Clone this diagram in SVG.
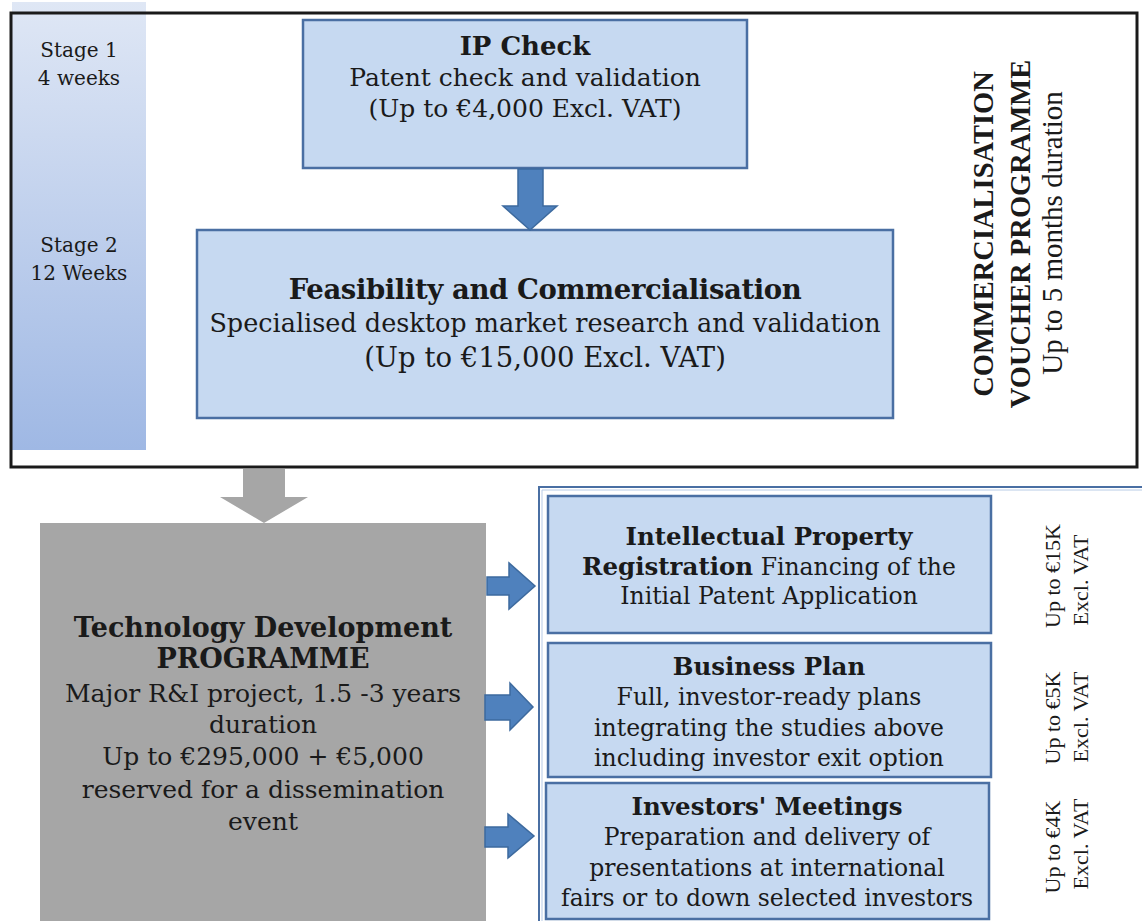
<svg xmlns="http://www.w3.org/2000/svg" width="1142" height="921" viewBox="0 0 1142 921">
<defs>
<linearGradient id="stageGrad" x1="0" y1="0" x2="0" y2="1">
<stop offset="0" stop-color="#dfe7f5"/>
<stop offset="1" stop-color="#9fb8e4"/>
</linearGradient>
<style>
.box{fill:#c6d9f1;stroke:#4a6fa3;stroke-width:2.5}
.barrow{fill:#4f81bd;stroke:#3d6a9e;stroke-width:1.5}
.g{font-family:"DejaVu Serif","Liberation Serif",serif;fill:#1a1a1a;text-anchor:middle}
.t{font-family:"Liberation Serif","Times New Roman",serif;fill:#1a1a1a;text-anchor:middle}
.b{font-weight:bold}
</style>
</defs>
<rect width="1142" height="921" fill="#ffffff"/>

<g id="stage-bar">
<rect x="12" y="2" width="134" height="448" fill="url(#stageGrad)"/>
<text class="g" font-size="20" x="79" y="57">Stage 1</text>
<text class="g" font-size="20" x="79" y="85">4 weeks</text>
<text class="g" font-size="20" x="79" y="252">Stage 2</text>
<text class="g" font-size="20" x="79" y="280">12 Weeks</text>
</g>

<g id="commercialisation-frame">
<rect x="11" y="13" width="1126" height="454" fill="none" stroke="#1a1a1a" stroke-width="3"/>
<text class="t b" font-size="28.5" transform="translate(993,234) rotate(-90)">COMMERCIALISATION</text>
<text class="t b" font-size="28.5" transform="translate(1030,234) rotate(-90)">VOUCHER PROGRAMME</text>
<text class="t" font-size="29" transform="translate(1062,233) rotate(-90)">Up to 5 months duration</text>
</g>

<g id="ip-check">
<rect class="box" x="303" y="20" width="444" height="148"/>
<text class="g b" font-size="26" x="525" y="55">IP Check</text>
<text class="g" font-size="25" x="525" y="86">Patent check and validation</text>
<text class="g" font-size="25" x="525" y="117">(Up to €4,000 Excl. VAT)</text>
</g>

<g id="feasibility">
<rect class="box" x="197" y="230" width="696" height="188"/>
<text class="g b" font-size="27.5" x="545" y="299" letter-spacing="-0.4">Feasibility and Commercialisation</text>
<text class="g" font-size="25.5" x="545" y="332">Specialised desktop market research and validation</text>
<text class="g" font-size="27.5" x="545" y="367">(Up to €15,000 Excl. VAT)</text>
</g>

<g id="tech-dev">
<rect x="40" y="523" width="446" height="400" fill="#a6a6a6"/>
<text class="g b" font-size="27" x="263" y="637">Technology Development</text>
<text class="g b" font-size="27" x="263" y="668">PROGRAMME</text>
<text class="g" font-size="25" x="263" y="702">Major R&amp;I project, 1.5 -3 years</text>
<text class="g" font-size="25" x="263" y="733">duration</text>
<text class="g" font-size="25" x="263" y="765">Up to €295,000 + €5,000</text>
<text class="g" font-size="25" x="263" y="798">reserved for a dissemination</text>
<text class="g" font-size="25" x="263" y="830">event</text>
</g>

<g id="services-frame">
<rect x="539" y="487" width="620" height="450" fill="none" stroke="#4a6fa3" stroke-width="2"/>
<line x1="542" y1="490" x2="1142" y2="490" stroke="#b8cbe6" stroke-width="1"/>
<line x1="542" y1="490" x2="542" y2="921" stroke="#b8cbe6" stroke-width="1"/>
</g>

<g id="ip-registration">
<rect class="box" x="548" y="496" width="443" height="137"/>
<text class="g b" font-size="24.5" x="769" y="545">Intellectual Property</text>
<text class="g" font-size="23.5" x="769" y="575"><tspan font-weight="bold" font-size="24.5">Registration</tspan> Financing of the</text>
<text class="g" font-size="23.5" x="769" y="604">Initial Patent Application</text>
<text class="t" font-size="22" transform="translate(1060,576) rotate(-90)">Up to €15K</text>
<text class="t" font-size="22" transform="translate(1088,580) rotate(-90)">Excl. VAT</text>
</g>

<g id="business-plan">
<rect class="box" x="548" y="643" width="443" height="134"/>
<text class="g b" font-size="24.5" x="769" y="675">Business Plan</text>
<text class="g" font-size="23.5" x="769" y="705">Full, investor-ready plans</text>
<text class="g" font-size="23.5" x="769" y="736">integrating the studies above</text>
<text class="g" font-size="23.5" x="769" y="766">including investor exit option</text>
<text class="t" font-size="22" transform="translate(1060,718) rotate(-90)">Up to €5K</text>
<text class="t" font-size="22" transform="translate(1088,717) rotate(-90)">Excl. VAT</text>
</g>

<g id="investors-meetings">
<rect class="box" x="546" y="783" width="443" height="136"/>
<text class="g b" font-size="24.5" x="767" y="815">Investors' Meetings</text>
<text class="g" font-size="23.5" x="767" y="845">Preparation and delivery of</text>
<text class="g" font-size="23.5" x="767" y="876">presentations at international</text>
<text class="g" font-size="23.5" x="767" y="906">fairs or to down selected investors</text>
<text class="t" font-size="22" transform="translate(1060,847) rotate(-90)">Up to €4K</text>
<text class="t" font-size="22" transform="translate(1088,844) rotate(-90)">Excl. VAT</text>
</g>

<g id="connectors">
<polygon class="barrow" points="518,169 543,169 543,206 557,206 530,230 503,206 518,206"/>
<polygon fill="#a6a6a6" points="243,469 285,469 285,497 308,497 264,523 220,497 243,497"/>
<polygon class="barrow" points="487,577 509,577 509,563 535,586 509,609 509,595 487,595"/>
<polygon class="barrow" points="485,695 510,695 510,683 533,707 510,730 510,720 485,720"/>
<polygon class="barrow" points="485,827 508,827 508,814 534,836 508,858 508,847 485,847"/>
</g>
</svg>
